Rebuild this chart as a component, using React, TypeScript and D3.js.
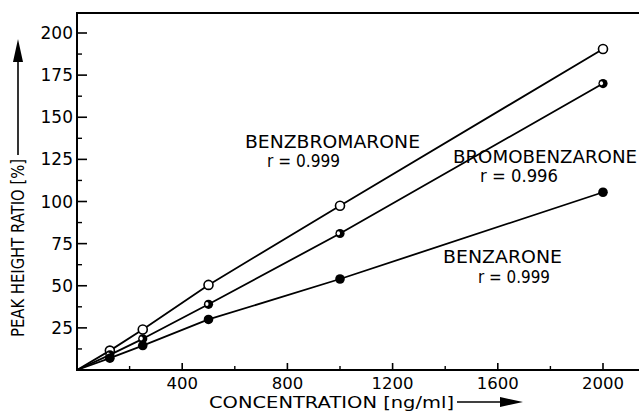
import React from "react";
import * as d3 from "d3";

const concentrations = [125, 250, 500, 1000, 2000];
const benzbromarone = [11.5, 24, 50.5, 97.5, 190.5];
const bromobenzarone = [9, 18.5, 39, 81, 170];
const benzarone = [7, 14.5, 30, 54, 105.5];

const seriesNames = ["BENZBROMARONE", "BROMOBENZARONE", "BENZARONE"];
const seriesR = ["r = 0.999", "r = 0.996", "r = 0.999"];

const xMajorTicks = [400, 800, 1200, 1600, 2000];
const xMinorTicks = [200, 600, 1000, 1400, 1800];
const yMajorTicks = [25, 50, 75, 100, 125, 150, 175, 200];
const yMinorTicks = [12.5, 37.5, 62.5, 87.5, 112.5, 137.5, 162.5, 187.5];

const W = 641;
const H = 411;
const FONT = "'DejaVu Sans', sans-serif";

export default function App() {
  const x = d3.scaleLinear().domain([0, 2000]).range([77, 603]);
  const y = d3.scaleLinear().domain([0, 200]).range([370, 33]);
  const left = 77;
  const right = 639;
  const top = 13;
  const bottom = 370;

  const series = [
    { name: seriesNames[0], r: seriesR[0], values: benzbromarone, kind: "open" },
    { name: seriesNames[1], r: seriesR[1], values: bromobenzarone, kind: "half" },
    { name: seriesNames[2], r: seriesR[2], values: benzarone, kind: "filled" },
  ];

  const labelPos = [
    { nx: 245, ny: 148, nw: 175, rx: 267, ry: 167, rw: 73 },
    { nx: 453, ny: 163, nw: 184, rx: 480, ry: 182, rw: 78 },
    { nx: 443, ny: 263, nw: 119, rx: 478, ry: 283, rw: 72 },
  ];

  const line = d3
    .line<[number, number]>()
    .x((d) => x(d[0]))
    .y((d) => y(d[1]));

  return (
    <svg width={W} height={H} style={{ position: "absolute", left: 0, top: 0, background: "#fff" }}>
      <rect x={0} y={0} width={W} height={H} fill="#fff" />
      {/* frame */}
      <path
        d={`M${right},${top}H${left}V${bottom}H${right}`}
        fill="none"
        stroke="#000"
        strokeWidth={2}
      />
      {/* y ticks */}
      {yMajorTicks.map((t) => (
        <g key={"ym" + t}>
          <line x1={left} x2={left + 10} y1={y(t)} y2={y(t)} stroke="#000" strokeWidth={1.6} />
          <text
            x={left - 4}
            y={y(t)}
            dy="0.36em"
            textAnchor="end"
            fontFamily={FONT}
            fontSize={17}
            fill="#000"
          >
            {t}
          </text>
        </g>
      ))}
      {yMinorTicks.map((t) => (
        <line key={"yn" + t} x1={left} x2={left + 5} y1={y(t)} y2={y(t)} stroke="#000" strokeWidth={1.4} />
      ))}
      {/* x ticks */}
      {xMajorTicks.map((t) => (
        <g key={"xm" + t}>
          <line x1={x(t)} x2={x(t)} y1={bottom} y2={bottom - 7} stroke="#000" strokeWidth={1.6} />
          <text
            x={x(t)}
            y={389}
            textAnchor="middle"
            fontFamily={FONT}
            fontSize={16.5}
            fill="#000"
          >
            {t}
          </text>
        </g>
      ))}
      {xMinorTicks.map((t) => (
        <line key={"xn" + t} x1={x(t)} x2={x(t)} y1={bottom} y2={bottom - 4} stroke="#000" strokeWidth={1.4} />
      ))}
      {/* x axis title */}
      <text x={209} y={407.5} fontFamily={FONT} fontSize={15} textLength={245} lengthAdjust="spacingAndGlyphs" fill="#000">
        CONCENTRATION [ng/ml]
      </text>
      <line x1={457} x2={505} y1={402} y2={402} stroke="#000" strokeWidth={1.6} />
      <path d="M500,397L523,402L500,407Z" fill="#000" />
      {/* y axis title */}
      <text
        transform="translate(24,337) rotate(-90)"
        fontFamily={FONT}
        fontSize={17}
        textLength={178}
        lengthAdjust="spacingAndGlyphs"
        fill="#000"
      >
        PEAK HEIGHT RATIO [%]
      </text>
      <line x1={18} x2={18} y1={155} y2={55} stroke="#000" strokeWidth={1.6} />
      <path d="M13,62L18,39L23,62Z" fill="#000" />
      {/* series lines */}
      {series.map((s) => (
        <path
          key={"l" + s.name}
          d={line([[0, 0] as [number, number]].concat(
            s.values.map((v, i) => [concentrations[i], v] as [number, number])
          )) || ""}
          fill="none"
          stroke="#000"
          strokeWidth={1.8}
          strokeLinejoin="round"
        />
      ))}
      {/* markers */}
      {series.map((s) =>
        s.values.map((v, i) => {
          const cx = x(concentrations[i]);
          const cy = y(v);
          if (s.kind === "open")
            return <circle key={s.name + i} cx={cx} cy={cy} r={4.5} fill="#fff" stroke="#000" strokeWidth={1.6} />;
          if (s.kind === "filled")
            return <circle key={s.name + i} cx={cx} cy={cy} r={4.8} fill="#000" />;
          return (
            <g key={s.name + i}>
              <circle cx={cx} cy={cy} r={4.6} fill="#000" />
              <ellipse cx={cx - 1.6} cy={cy - 0.3} rx={1.6} ry={2} fill="#fff" />
            </g>
          );
        })
      )}
      {/* labels */}
      {series.map((s, i) => (
        <g key={"t" + s.name}>
          <text
            x={labelPos[i].nx}
            y={labelPos[i].ny}
            fontFamily={FONT}
            fontSize={17}
            textLength={labelPos[i].nw}
            lengthAdjust="spacingAndGlyphs"
            fill="#000"
          >
            {s.name}
          </text>
          <text
            x={labelPos[i].rx}
            y={labelPos[i].ry}
            fontFamily={FONT}
            fontSize={17}
            textLength={labelPos[i].rw}
            lengthAdjust="spacingAndGlyphs"
            fill="#000"
          >
            {s.r}
          </text>
        </g>
      ))}
    </svg>
  );
}
